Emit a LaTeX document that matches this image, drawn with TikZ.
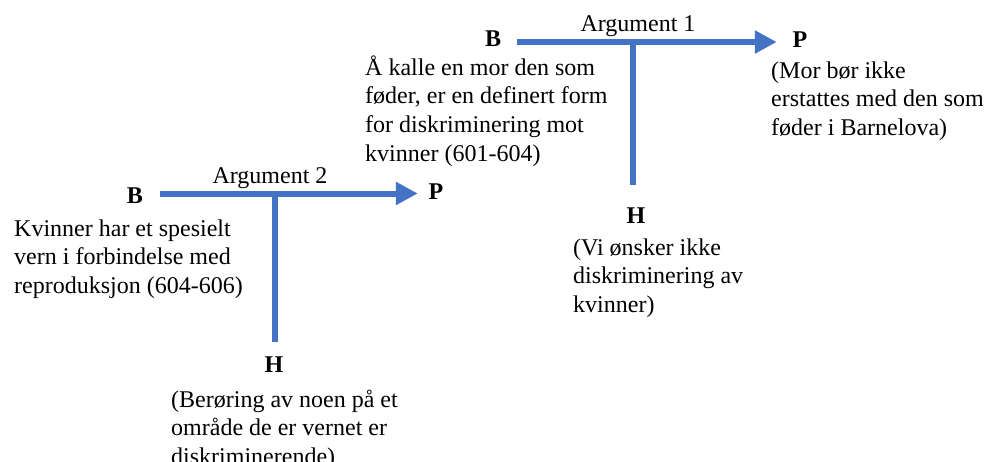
\documentclass[tikz,border=0pt]{standalone}
\usepackage{fontspec}
\setmainfont{Liberation Serif}
\usetikzlibrary{arrows.meta}
\definecolor{argblue}{HTML}{4472C4}
\newcommand\bodyfont{\fontsize{24}{28.6}\selectfont}
\newcommand\tstrut{\rule{0pt}{24pt}}
\begin{document}
\begin{tikzpicture}[x=1pt,y=-1pt,
	lbl/.style={font=\bodyfont\bfseries,inner sep=0pt,anchor=base},
	title/.style={font=\bodyfont,inner sep=0pt,anchor=base},
	txt/.style={font=\bodyfont,align=left,inner sep=0pt,anchor=north west},
	arg/.style={argblue,line width=6pt,-{Triangle[length=22pt,width=22pt]}},
	stem/.style={argblue,line width=6pt}]
	
	\useasboundingbox (0,0) rectangle (986,461);
	
	% Argument 1
	\node[lbl](b1) at (493,46) {B};
	\node[lbl](p1) at (800,47) {P};
	\node[lbl](h1) at (636,223) {H};
	\node[title](a1) at (638,31) {Argument 1};
	\coordinate (j1) at (633,42);
	
	\node[txt](tb1) at (365,51) {\tstrut Å kalle en mor den som\\føder, er en definert form\\for diskriminering mot\\kvinner (601-604)};
	\node[txt](tp1) at (771,54) {\tstrut (Mor bør ikke\\erstattes med den som\\føder i Barnelova)};
	\node[txt](th1) at (573,231) {\tstrut (Vi ønsker ikke\\diskriminering av\\kvinner)};
	
	\draw[arg,shorten <=16pt,shorten >=15.7pt](b1.east |- j1)--(p1.west |- j1);
	\draw[stem,shorten >=22pt](j1)--(j1 |- h1.north);
	
	% Argument 2
	\node[lbl](b2) at (135,203) {B};
	\node[lbl](p2) at (436,199) {P};
	\node[lbl](h2) at (274,372) {H};
	\node[title](a2) at (270,183) {Argument 2};
	\coordinate (j2) at (275,193.5);
	
	\node[txt](tb2) at (14,212) {\tstrut Kvinner har et spesielt\\vern i forbindelse med\\reproduksjon (604-606)};
	\node[txt](th2) at (171,383) {\tstrut (Berøring av noen på et\\område de er vernet er\\diskriminerende)};
	
	\draw[arg,shorten <=17pt,shorten >=10.7pt](b2.east |- j2)--(p2.west |- j2);
	\draw[stem,shorten >=14pt](j2)--(j2 |- h2.north);
	
\end{tikzpicture}
\end{document}
